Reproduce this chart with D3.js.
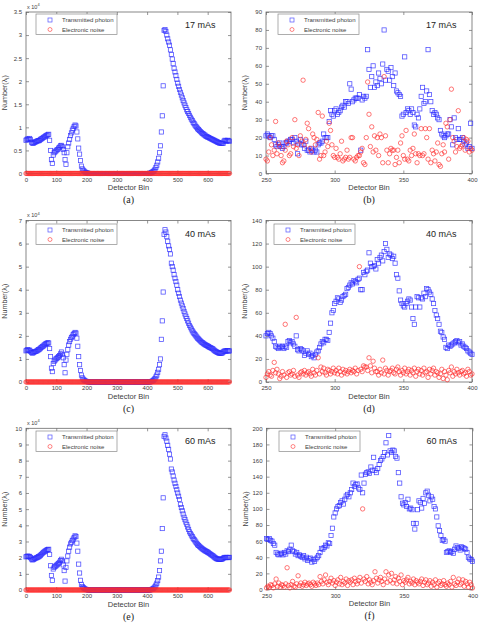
<!DOCTYPE html>
<html>
<head>
<meta charset="utf-8">
<script src="https://cdn.jsdelivr.net/npm/d3@7"></script>
<style>
html,body{margin:0;padding:0;background:#fff;}
svg{display:block;}
</style>
</head>
<body>
<svg id="chart" width="479" height="624"></svg>
<script>
// ---------------- DATA ----------------
// Full detector profile, bins 0..672 every 3 bins (values in units of 10^4)
const fullBinStep = 3;
const transFull17 = [
 0.72,0.74,0.75,0.74,0.76,0.73,0.68,0.66,0.65,0.67,
 0.68,0.69,0.70,0.71,0.71,0.72,0.74,0.75,0.76,0.78,
 0.79,0.80,0.82,0.83,0.84,0.85,0.72,0.50,0.30,0.22,
 0.40,0.45,0.47,0.49,0.51,0.52,0.55,0.57,0.60,0.61,
 0.58,0.52,0.45,0.30,0.20,0.45,0.58,0.66,0.74,0.82,
 0.88,0.94,0.98,1.02,1.05,1.03,0.90,0.75,0.55,0.42,
 0.28,0.16,0.10,0.07,0.05,0.03,0.02,0.01,0.01,0.00,
 0,0,0,0,0,0,0,0,0,0,
 0,0,0,0,0,0,0,0,0,0,
 0,0,0,0,0,0,0,0,0,0,
 0,0,0,0,0,0,0,0,0,0,
 0,0,0,0,0,0,0,0,0,0,
 0,0,0,0,0,0,0,0,0,0,
 0,0,0,0,0,0,0,0.01,0.02,0.03,
 0.04,0.06,0.09,0.13,0.18,0.25,0.33,0.45,0.60,0.90,
 1.25,1.90,3.10,3.12,3.08,3.00,2.92,2.85,2.78,2.68,
 2.58,2.48,2.38,2.28,2.20,2.12,2.04,1.96,1.89,1.82,
 1.76,1.70,1.64,1.58,1.53,1.48,1.43,1.38,1.34,1.30,
 1.26,1.22,1.18,1.15,1.11,1.08,1.05,1.02,1.00,0.97,
 0.95,0.93,0.91,0.89,0.87,0.86,0.84,0.83,0.81,0.80,
 0.79,0.78,0.77,0.76,0.75,0.74,0.73,0.72,0.71,0.70,
 0.69,0.68,0.67,0.66,0.66,0.65,0.66,0.65,0.70,0.72,
 0.71,0.70,0.72,0.71,0.70
];
const transFull40 = [
 1.35,1.38,1.40,1.37,1.38,1.33,1.28,1.25,1.27,1.30,
 1.32,1.33,1.35,1.38,1.40,1.43,1.47,1.50,1.53,1.56,
 1.60,1.63,1.66,1.68,1.70,1.69,1.45,1.10,0.60,0.45,
 0.80,0.90,0.95,1.00,1.03,1.06,1.10,1.15,1.22,1.30,
 1.20,1.05,0.75,0.40,0.95,1.20,1.40,1.60,1.75,1.85,
 1.92,1.98,2.05,2.10,2.15,2.12,1.90,1.55,1.10,0.75,
 0.50,0.30,0.18,0.12,0.08,0.05,0.03,0.02,0.01,0.00,
 0,0,0,0,0,0,0,0,0,0,
 0,0,0,0,0,0,0,0,0,0,
 0,0,0,0,0,0,0,0,0,0,
 0,0,0,0,0,0,0,0,0,0,
 0,0,0,0,0,0,0,0,0,0,
 0,0,0,0,0,0,0,0,0,0,
 0,0,0,0,0,0,0,0.01,0.02,0.04,
 0.06,0.10,0.15,0.22,0.30,0.42,0.55,0.75,1.00,1.85,
 2.65,3.90,6.40,6.60,6.50,6.30,6.10,5.90,5.75,5.55,
 5.15,5.00,4.85,4.65,4.50,4.35,4.20,4.00,3.85,3.70,
 3.55,3.42,3.30,3.18,3.06,2.95,2.85,2.75,2.65,2.55,
 2.45,2.38,2.30,2.22,2.16,2.10,2.05,2.00,1.95,1.90,
 1.86,1.82,1.78,1.74,1.71,1.68,1.65,1.62,1.60,1.58,
 1.56,1.53,1.51,1.49,1.47,1.45,1.42,1.38,1.35,1.32,
 1.30,1.28,1.26,1.25,1.25,1.24,1.26,1.30,1.33,1.35,
 1.34,1.35,1.36,1.34,1.35
];
const transFull60 = [
 2.05,2.08,2.10,2.06,2.08,2.00,1.92,1.86,1.88,1.92,
 1.95,1.98,2.00,2.03,2.06,2.10,2.15,2.20,2.26,2.32,
 2.36,2.40,2.44,2.48,2.50,2.52,2.20,1.50,0.90,0.60,
 1.30,1.40,1.45,1.50,1.55,1.60,1.65,1.72,1.82,1.90,
 1.80,1.55,1.20,0.55,1.40,1.80,2.10,2.40,2.65,2.85,
 2.95,3.05,3.15,3.25,3.35,3.30,2.90,2.40,1.60,1.05,
 0.60,0.35,0.22,0.15,0.10,0.06,0.04,0.02,0.01,0.00,
 0,0,0,0,0,0,0,0,0,0,
 0,0,0,0,0,0,0,0,0,0,
 0,0,0,0,0,0,0,0,0,0,
 0,0,0,0,0,0,0,0,0,0,
 0,0,0,0,0,0,0,0,0,0,
 0,0,0,0,0,0,0,0,0,0,
 0,0,0,0,0,0,0,0.01,0.03,0.05,
 0.08,0.13,0.20,0.30,0.42,0.58,0.80,1.20,1.80,2.40,
 3.80,5.70,9.50,9.60,9.40,9.20,8.95,8.70,8.40,8.10,
 7.48,7.30,7.05,6.80,6.60,6.40,6.20,6.00,5.80,5.60,
 5.30,5.10,4.90,4.70,4.50,4.35,4.20,4.05,3.90,3.75,
 3.60,3.50,3.40,3.30,3.20,3.12,3.04,2.96,2.88,2.80,
 2.75,2.70,2.65,2.60,2.55,2.51,2.47,2.43,2.40,2.37,
 2.34,2.30,2.26,2.22,2.18,2.14,2.10,2.05,2.00,1.96,
 1.93,1.92,1.90,1.90,1.89,1.90,1.92,1.95,2.00,2.02,
 2.00,2.02,2.01,2.00,2.02
];
// Electronic noise over the full profile (counts)
const noiseFull = [
 8,12,15,7,10,18,9,6,14,11, 13,9,16,8,12,20,7,10,15,9,
 11,14,8,17,10,6,12,19,9,13, 7,15,10,12,8,16,11,9,14,6,
 10,13,18,8,11,7,15,12,9,16, 12,8,14,10,19,9,13,7,11,15,
 9,16,11,8,13,10,17,12,6,14, 11,7,15,13,9,18,10,8,12,16,
 14,10,8,17,11,13,7,15,9,12, 10,12,16,9,14,8,11,19,13,7,
 12,9,13,15,8,11,16,10,14,9, 8,14,10,12,17,9,13,11,7,15,
 13,11,9,16,10,14,8,12,18,10, 9,15,12,8,13,11,16,9,14,12,
 11,8,14,10,12,17,9,13,10,15, 12,16,9,13,11,8,15,10,14,11,
 10,13,17,9,12,14,8,16,11,9, 14,9,12,15,10,13,11,7,16,12,
 9,12,10,14,8,17,12,10,13,11, 13,10,15,9,12,11,14,8,16,10,
 11,14,9,12,16,10,13,9,12,15, 10,8,13,11,14,9,12,17,10,13,
 12,9,14,11,10
];

// Zoomed region, bins 250..400 (counts)
const zoomBinStart = 250;
const trans17 = [
 21,22,21,20,21,21,19, 16,15,16,17,15,14, 15,17,17,18,18,19,19,17,
 20,18,11,17,19,16,16,14,18,13,
 13,12,14,13,12,13,12,16,17,17,
 18,22,20,20,20,29,35,33,32,35,
 36,33,34,35,37,38,37,40,40,39,
 50,47,40,41,42,42,42,44,13,41,
 43,42,43,69,58,48,54,60,48,51,
 49,56,53,50,61,80,52,58,57,52,
 59,54,49,56,46,45,44,43,32,33,
 65,34,36,35,33,36,34,27,26,33,
 31,36,43,48,39,40,46,69,44,40,
 35,33,34,33,31,30,24,22,21,20,
 21,22,22,30,26,16,31,20,19,25,
 19,19,20,18,16,17,14,15,28,14
];
const noise17 = [
 8,7,12,20,16,10, 13,29,11,17,15,10,6, 7,13,18,16,10,11,20,15,
 30,14,16,10,21,18,52,16,19,28,
 25,14,12,22,20,16,19,34,8,10,
 32,10,12,18,15,28,24,16,10,9,
 14,9,8,11,18,7,8,9,13,8,
 9,20,20,8,7,9,10,10,12,14,
 6,5,20,51,33,15,26,12,21,13,
 20,10,22,20,6,54,21,13,6,11,
 14,13,13,5,9,13,6,17,21,10,
 8,24,8,7,13,10,14,22,11,6,
 11,10,25,10,11,25,20,8,25,6,
 13,11,7,12,17,5,4,11,16,12,
 28,26,8,30,47,20,18,12,15,35,
 14,15,16,20,13,19,18,12,14,13
];
const trans40 = [
 40,42,43,42,40,38,35, 31,30,29,31,30,31, 29,31,30,35,36,34,35,33,
 31,40,28,27,29,28,27,23,25,27,
 24,25,22,23,21,24,26,27,30,33,
 35,34,37,37,36,43,51,60,62,68,
 70,73,72,69,71,74,75,76,81,82,
 84,86,85,88,87,86,89,90,80,80,
 95,93,96,97,112,103,100,100,101,98,
 106,103,108,110,105,113,120,115,108,111,
 110,107,109,103,93,90,79,71,68,66,
 65,68,70,72,71,65,55,50,65,74,
 73,65,73,72,77,74,81,80,78,76,
 72,68,62,58,55,50,44,43,39,37,
 30,29,32,31,32,33,34,35,36,34,
 35,32,33,31,30,29,27,26,25,24
];
const noise40 = [
 4,7,9,6,5,10,17, 8,11,7,3,5,9, 6,50,4,8,9,6,7,10,
 5,56,6,4,8,9,7,10,6,8,
 9,7,5,11,8,6,10,21,7,13,
 9,12,8,6,11,10,7,9,12,8,
 10,7,12,9,6,11,8,10,7,9,
 11,8,10,9,12,7,10,100,11,9,
 14,13,13,10,21,14,8,18,12,9,
 9,6,11,8,19,7,12,10,6,9,
 10,12,8,7,11,13,9,6,10,8,
 12,7,9,11,6,10,8,12,5,9,
 11,7,10,6,12,8,9,4,11,7,
 10,12,6,9,8,4,7,11,3,9,
 6,2,10,8,13,5,9,7,11,8,
 6,9,10,7,8,5,11,9,6,7
];
const trans60 = [
 63,62,63,61,60,57,55, 46,44,43,44,45,43, 46,44,48,47,50,55,48,47,
 44,46,42,43,41,40,42,38,40,36,
 38,39,34,37,35,38,40,42,46,51,
 50,52,55,54,58,57,67,76,90,95,
 100,103,104,108,110,106,112,116,118,115,
 120,124,132,128,130,131,126,124,142,120,
 132,143,145,146,144,152,148,164,148,145,
 150,155,160,162,165,170,182,167,191,172,
 170,173,172,165,163,145,132,115,107,105,
 108,103,112,100,101,99,82,75,82,99,
 110,108,101,113,107,120,122,117,110,115,
 112,103,100,90,79,73,67,61,62,60,
 46,47,48,46,47,45,50,54,52,51,
 49,53,52,51,50,46,40,38,37,35
];
const noise60 = [
 2,4,3,6,5,2,7, 13,4,8,3,6,5, 3,7,27,5,2,6,10,4,
 3,7,17,5,8,4,6,9,5,7,
 8,6,4,9,7,5,8,6,16,10,
 7,12,18,9,6,10,14,8,11,5,
 9,12,7,15,6,10,8,13,5,11,
 9,12,6,14,10,7,11,15,8,100,
 13,10,16,7,12,9,6,11,22,14,
 8,12,15,10,6,13,22,9,18,11,
 20,8,12,16,7,14,10,18,6,11,
 9,12,15,7,10,8,13,6,11,9,
 7,10,13,5,9,12,6,8,11,4,
 9,6,12,3,8,10,5,7,11,6,
 4,8,6,10,3,15,7,5,9,13,
 6,8,12,4,10,7,3,9,6,2
];

const seriesNames = ["Transmitted photon", "Electronic noise"];
const doseLabels = ["17 mAs", "40 mAs", "60 mAs"];
const subLabels = ["(a)", "(b)", "(c)", "(d)", "(e)", "(f)"];
const fullXTicks = [0,100,200,300,400,500,600];
const zoomXTicks = [250,300,350,400];
const yTicks17Full = [0,0.5,1,1.5,2,2.5,3,3.5];
const yTicks40Full = [0,1,2,3,4,5,6,7];
const yTicks60Full = [0,1,2,3,4,5,6,7,8,9,10];
const yTicks17 = [0,10,20,30,40,50,60,70,80,90];
const yTicks40 = [0,20,40,60,80,100,120,140];
const yTicks60 = [0,20,40,60,80,100,120,140,160,180,200];

// ---------------- LAYOUT ----------------
const fullBins = d3.range(0, transFull17.length).map(i => i * fullBinStep);
const zoomBins = d3.range(0, trans17.length).map(i => zoomBinStart + i);

const panels = [
 {box:[26,12,231,173.5], xd:[0,677], xt:fullXTicks, yt:yTicks17Full, bins:fullBins, t:transFull17, n:noiseFull.map(v=>v/1e4), exp:true, dose:0, sub:0, leg:[36,14]},
 {box:[266,12,472,173.5], xd:[250,400], xt:zoomXTicks, yt:yTicks17, bins:zoomBins, t:trans17, n:noise17, exp:false, dose:0, sub:1, leg:[278,14]},
 {box:[26,220.5,231,382], xd:[0,677], xt:fullXTicks, yt:yTicks40Full, bins:fullBins, t:transFull40, n:noiseFull.map(v=>v/1e4), exp:true, dose:1, sub:2, leg:[36,224]},
 {box:[266,220.5,472,382], xd:[250,400], xt:zoomXTicks, yt:yTicks40, bins:zoomBins, t:trans40, n:noise40, exp:false, dose:1, sub:3, leg:[274,224]},
 {box:[26,428.3,231,590], xd:[0,677], xt:fullXTicks, yt:yTicks60Full, bins:fullBins, t:transFull60, n:noiseFull.map(v=>v/1e4), exp:true, dose:2, sub:4, leg:[36,431]},
 {box:[266.5,428.3,472.5,589.5], xd:[250,400], xt:zoomXTicks, yt:yTicks60, bins:zoomBins, t:trans60, n:noise60, exp:false, dose:2, sub:5, leg:[279,431]}
];

const svg = d3.select("#chart");
const FONT = "'Liberation Sans', Arial, sans-serif";
const BLUE = "#2b2bff", RED = "#ff2a2a", AXIS = "#6a6a6a", TXT = "#404040";

function drawPanel(p) {
  const [L,T,R,B] = p.box;
  const x = d3.scaleLinear().domain(p.xd).range([L,R]);
  const yd = [p.yt[0], p.yt[p.yt.length-1]];
  const y = d3.scaleLinear().domain(yd).range([B,T]);
  const g = svg.append("g");
  const fmt = d => d3.format("~g")(d);

  // axes (ticks pointing inward, MATLAB-like box)
  const styleAxis = (sel, labels) => {
    sel.select(".domain").remove();
    sel.selectAll(".tick line").attr("stroke", AXIS).attr("stroke-width", 0.7);
    sel.selectAll(".tick text").attr("fill", TXT).attr("font-family", FONT).attr("font-size", 6);
    if (!labels) sel.selectAll(".tick text").remove();
  };
  g.append("g").attr("transform", `translate(0,${B})`)
    .call(d3.axisBottom(x).tickValues(p.xt).tickFormat(fmt).tickSizeInner(-3).tickSizeOuter(0).tickPadding(4))
    .call(s => styleAxis(s, true));
  g.append("g").attr("transform", `translate(0,${T})`)
    .call(d3.axisTop(x).tickValues(p.xt).tickSizeInner(-3).tickSizeOuter(0))
    .call(s => styleAxis(s, false));
  g.append("g").attr("transform", `translate(${L},0)`)
    .call(d3.axisLeft(y).tickValues(p.yt).tickFormat(fmt).tickSizeInner(-3).tickSizeOuter(0).tickPadding(4))
    .call(s => styleAxis(s, true));
  g.append("g").attr("transform", `translate(${R},0)`)
    .call(d3.axisRight(y).tickValues(p.yt).tickSizeInner(-3).tickSizeOuter(0))
    .call(s => styleAxis(s, false));
  g.append("rect").attr("x", L).attr("y", T).attr("width", R-L).attr("height", B-T)
    .attr("fill", "none").attr("stroke", AXIS).attr("stroke-width", 0.8);

  // transmitted photon squares
  const sq = 4.2;
  g.append("g").selectAll("rect").data(p.t).join("rect")
    .attr("x", (d,i) => x(p.bins[i]) - sq/2)
    .attr("y", d => y(d) - sq/2)
    .attr("width", sq).attr("height", sq)
    .attr("fill", "none").attr("stroke", BLUE).attr("stroke-width", 0.75).attr("stroke-opacity", 0.85);
  // electronic noise circles
  g.append("g").selectAll("circle").data(p.n).join("circle")
    .attr("cx", (d,i) => x(p.bins[i]))
    .attr("cy", d => y(d))
    .attr("r", 2.2)
    .attr("fill", "none").attr("stroke", RED).attr("stroke-width", 0.75).attr("stroke-opacity", 0.85);

  // exponent label
  if (p.exp) {
    const t = g.append("text").attr("x", L+1).attr("y", T-3.5)
      .attr("font-family", FONT).attr("font-size", 5.5).attr("fill", TXT);
    t.append("tspan").text("x 10");
    t.append("tspan").attr("dy", -2.5).attr("font-size", 4).text("4");
  }

  // axis titles
  g.append("text").attr("x", (L+R)/2).attr("y", B+16.5).attr("text-anchor", "middle")
    .attr("font-family", FONT).attr("font-size", 7.5).attr("fill", TXT).text("Detector Bin");
  const yl = g.append("text").attr("transform", `translate(${L-19},${(T+B)/2}) rotate(-90)`)
    .attr("text-anchor", "middle").attr("font-family", FONT).attr("font-size", 7.2).attr("fill", TXT);
  yl.append("tspan").text("Number(λ");
  yl.append("tspan").attr("font-size", 5).attr("dy", 1.5).text("i");
  yl.append("tspan").attr("dy", -1.5).text(")");

  // legend
  const [lx, ly] = p.leg;
  const lg = g.append("g");
  lg.append("rect").attr("x", lx).attr("y", ly).attr("width", 81).attr("height", 20.5)
    .attr("fill", "#fff").attr("stroke", "#8a8a8a").attr("stroke-width", 0.7);
  lg.append("rect").attr("x", lx+14-2).attr("y", ly+6-2).attr("width", 4).attr("height", 4)
    .attr("fill", "none").attr("stroke", BLUE).attr("stroke-width", 0.7).attr("stroke-opacity", 0.8);
  lg.append("circle").attr("cx", lx+14).attr("cy", ly+15.5).attr("r", 2)
    .attr("fill", "none").attr("stroke", RED).attr("stroke-width", 0.7).attr("stroke-opacity", 0.8);
  seriesNames.forEach((s, i) => {
    lg.append("text").attr("x", lx+26).attr("y", ly+8.2+i*9.5)
      .attr("font-family", FONT).attr("font-size", 6).attr("fill", TXT).text(s);
  });

  // dose annotation
  g.append("text").attr("x", R-46).attr("y", T+16)
    .attr("font-family", FONT).attr("font-size", 9).attr("fill", "#222").text(doseLabels[p.dose]);

  // sub caption
  g.append("text").attr("x", (L+R)/2).attr("y", B+29.5).attr("text-anchor", "middle")
    .attr("font-family", "'Liberation Serif','Times New Roman',serif").attr("font-size", 10)
    .attr("fill", "#222").text(subLabels[p.sub]);
}

panels.forEach(drawPanel);
</script>
</body>
</html>
